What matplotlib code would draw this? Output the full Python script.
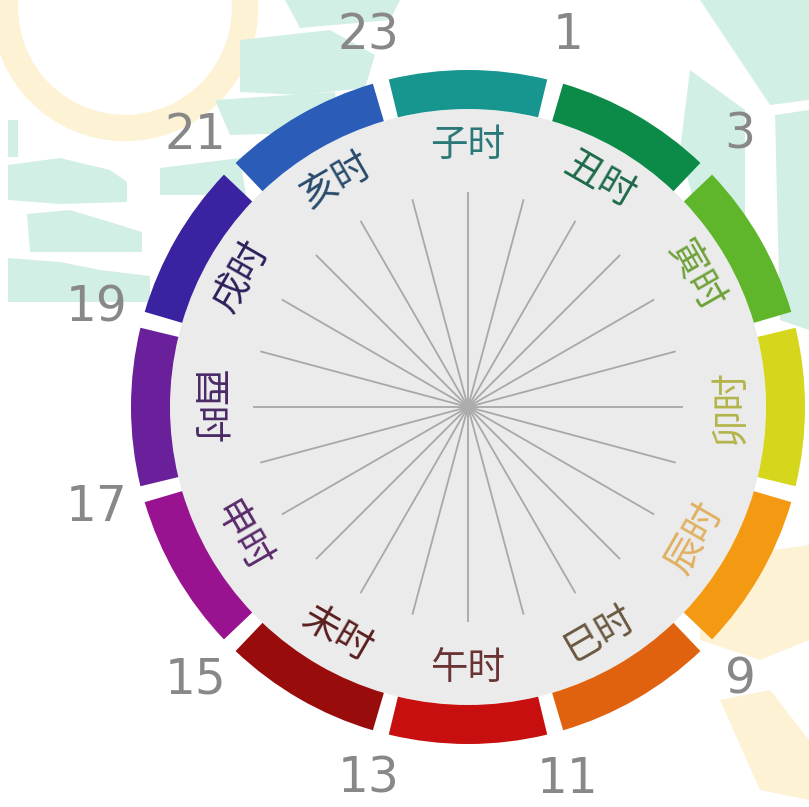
import matplotlib
matplotlib.use("Agg")
import matplotlib.pyplot as plt
from matplotlib.patches import Circle, Polygon
import numpy as np

plt.rcParams['font.family'] = ['Noto Sans CJK SC', 'DejaVu Sans']

# ── data ────────────────────────────────────────────────────────────
branches = ["子时", "丑时", "寅时", "卯时", "辰时", "巳时",
            "午时", "未时", "申时", "酉时", "戌时", "亥时"]
seg_colors = ["#17968f", "#0c8a48", "#5fb62a", "#d6d61c", "#f39a12", "#e0620f",
              "#c80f0f", "#990c0c", "#991290", "#6a1f9b", "#3a22a0", "#2a5cb8"]
label_colors = ["#2b7878", "#1d6a48", "#6fa23a", "#b4b44c", "#e0b060", "#6a5840",
                "#6a3434", "#5a1e1e", "#5a2a6a", "#4a2a66", "#2e1e5a", "#2a4c6c"]
label_rot = [0, -30, -60, 90, 60, 30, 0, -30, -60, -90, 60, 30]
hours_shown = [23, 1, 3, 9, 11, 13, 15, 17, 19, 21]
n_spokes = 24

# ── geometry (pixels) ───────────────────────────────────────────────
W, H = 809, 807
CX, CY = 468, 407
R_DISC = 298
R_OUT = 337
R_LABEL = 262
R_HOUR = 385
R_SPOKE = 215
GAP_DEG = 2.8

fig = plt.figure(figsize=(W / 100, H / 100), dpi=100)
fig.patch.set_facecolor("white")

# background decoration (pixel coords, y down)
bg = fig.add_axes([0, 0, 1, 1])
bg.set_xlim(0, W)
bg.set_ylim(H, 0)
bg.axis("off")
MINT = "#d2efe6"
YEL = "#fdf2d4"
bg.add_patch(Circle((125, 8), 120, facecolor="none", edgecolor=YEL, linewidth=19))
mint_shapes = [
    [(8, 120), (18, 120), (18, 157), (8, 157)],
    [(8, 165), (60, 158), (110, 170), (127, 182), (127, 202), (60, 204), (8, 200)],
    [(27, 214), (70, 210), (110, 222), (142, 232), (142, 252), (30, 252)],
    [(8, 258), (60, 262), (100, 270), (150, 276), (150, 302), (8, 302)],
    [(160, 168), (240, 158), (246, 195), (160, 195)],
    [(215, 100), (335, 92), (340, 132), (230, 135)],
    [(240, 40), (330, 30), (375, 55), (365, 88), (300, 95), (240, 92)],
    [(285, 0), (400, 0), (390, 20), (300, 28)],
    [(700, 0), (809, 0), (809, 100), (770, 105), (740, 60)],
    [(690, 70), (745, 110), (745, 230), (700, 225), (680, 150)],
    [(775, 115), (809, 110), (809, 330), (780, 320)],
]
for pts in mint_shapes:
    bg.add_patch(Polygon(pts, closed=True, facecolor=MINT, edgecolor="none"))
yel_shapes = [
    [(700, 560), (809, 545), (809, 640), (760, 660), (700, 640)],
    [(720, 700), (770, 690), (809, 740), (809, 800), (760, 790)],
]
for pts in yel_shapes:
    bg.add_patch(Polygon(pts, closed=True, facecolor=YEL, edgecolor="none"))

# polar axes: radius 400 data units == 400 px
RLIM = 400
ax = fig.add_axes([(CX - RLIM) / W, (H - CY - RLIM) / H, 2 * RLIM / W, 2 * RLIM / H],
                  projection="polar")
ax.set_theta_zero_location("N")
ax.set_theta_direction(-1)
ax.set_ylim(0, RLIM)
ax.patch.set_alpha(0)
ax.axis("off")

# grey disc
ax.bar(0, R_DISC, width=2 * np.pi, bottom=0, color="#ebebeb", edgecolor="none", zorder=1)

# ring segments
theta_c = np.radians(np.arange(len(branches)) * 30)
ax.bar(theta_c, R_OUT - R_DISC, width=np.radians(30 - GAP_DEG), bottom=R_DISC,
       color=seg_colors, edgecolor="none", zorder=2)

# spokes
spoke_t = np.radians(np.arange(n_spokes) * 360 / n_spokes)
for t in spoke_t:
    ax.plot([t, t], [0, R_SPOKE], color="#a8a8a8", lw=1.3, solid_capstyle="butt", zorder=3)
ax.scatter([0], [0], s=60, color="#b0b0b0", alpha=0.7, edgecolors="none", zorder=4)

# branch labels
for t, s, c, r in zip(theta_c, branches, label_colors, label_rot):
    ax.text(t, R_LABEL, s, color=c, fontsize=27, rotation=r, rotation_mode="anchor",
            ha="center", va="center", zorder=5)

# hour numbers
for h in hours_shown:
    ax.text(np.radians(h * 15), R_HOUR, str(h), color="#888888", fontsize=35,
            family="DejaVu Sans", ha="center", va="center", zorder=5)

fig.savefig("out.png", dpi=100, facecolor="white")
